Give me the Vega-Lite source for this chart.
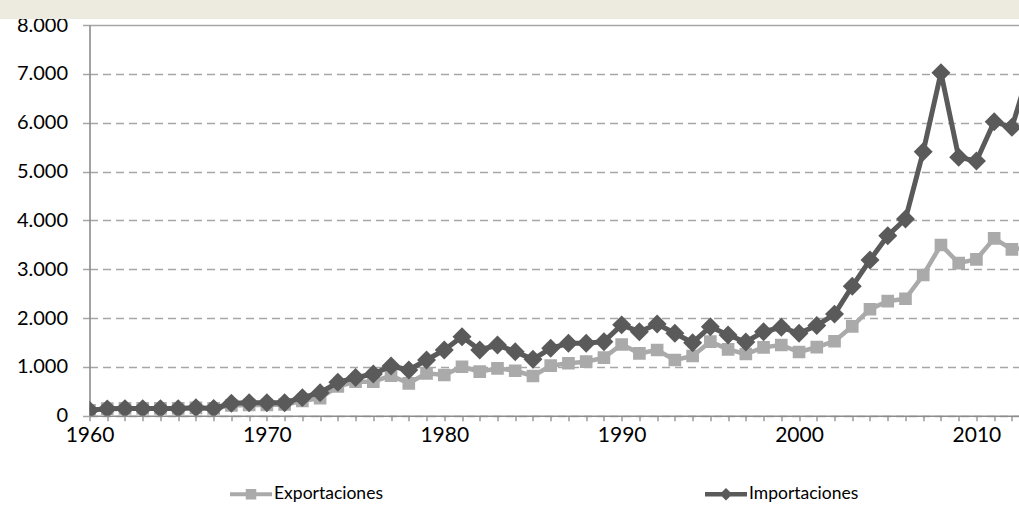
{
  "$schema": "https://vega.github.io/schema/vega-lite/v6.json",
  "width": 929.5,
  "height": 390.7,
  "autosize": {"type": "none"},
  "padding": {"left": 89.5, "top": 25, "right": 0, "bottom": 95.3},
  "background": "white",
  "config": {
    "view": {"stroke": null},
    "font": "Lato",
    "axisX": {
      "labelOverlap": false,
      "labelFlush": false,
      "labelFontSize": 21,
      "labelColor": "#000000",
      "labelPadding": 4,
      "tickSize": 5,
      "tickColor": "#8C8C8C",
      "tickWidth": 1.3,
      "domainColor": "#8C8C8C",
      "domainWidth": 1.6,
      "grid": false
    },
    "axisY": {
      "labelFontSize": 20,
      "labelColor": "#000000",
      "labelPadding": 15,
      "tickSize": 7,
      "tickColor": "#A6A6A6",
      "tickWidth": 1.5,
      "grid": true,
      "gridColor": "#A6A6A6",
      "gridWidth": 1.5,
      "domainColor": "#8C8C8C",
      "domainWidth": 1.6
    }
  },
  "resolve": {"scale": {"x": "shared", "y": "shared"}, "axis": {"x": "independent"}},
  "datasets": {
    "trade": [
      {"year": 1960, "series": "Exportaciones", "value": 110},
      {"year": 1961, "series": "Exportaciones", "value": 145},
      {"year": 1962, "series": "Exportaciones", "value": 150},
      {"year": 1963, "series": "Exportaciones", "value": 150},
      {"year": 1964, "series": "Exportaciones", "value": 150},
      {"year": 1965, "series": "Exportaciones", "value": 150},
      {"year": 1966, "series": "Exportaciones", "value": 160},
      {"year": 1967, "series": "Exportaciones", "value": 150},
      {"year": 1968, "series": "Exportaciones", "value": 210},
      {"year": 1969, "series": "Exportaciones", "value": 220},
      {"year": 1970, "series": "Exportaciones", "value": 220},
      {"year": 1971, "series": "Exportaciones", "value": 230},
      {"year": 1972, "series": "Exportaciones", "value": 300},
      {"year": 1973, "series": "Exportaciones", "value": 360},
      {"year": 1974, "series": "Exportaciones", "value": 600},
      {"year": 1975, "series": "Exportaciones", "value": 696},
      {"year": 1976, "series": "Exportaciones", "value": 696},
      {"year": 1977, "series": "Exportaciones", "value": 820},
      {"year": 1978, "series": "Exportaciones", "value": 663},
      {"year": 1979, "series": "Exportaciones", "value": 868},
      {"year": 1980, "series": "Exportaciones", "value": 833},
      {"year": 1981, "series": "Exportaciones", "value": 1003},
      {"year": 1982, "series": "Exportaciones", "value": 901},
      {"year": 1983, "series": "Exportaciones", "value": 970},
      {"year": 1984, "series": "Exportaciones", "value": 921},
      {"year": 1985, "series": "Exportaciones", "value": 813},
      {"year": 1986, "series": "Exportaciones", "value": 1024},
      {"year": 1987, "series": "Exportaciones", "value": 1073},
      {"year": 1988, "series": "Exportaciones", "value": 1106},
      {"year": 1989, "series": "Exportaciones", "value": 1190},
      {"year": 1990, "series": "Exportaciones", "value": 1458},
      {"year": 1991, "series": "Exportaciones", "value": 1277},
      {"year": 1992, "series": "Exportaciones", "value": 1345},
      {"year": 1993, "series": "Exportaciones", "value": 1140},
      {"year": 1994, "series": "Exportaciones", "value": 1222},
      {"year": 1995, "series": "Exportaciones", "value": 1516},
      {"year": 1996, "series": "Exportaciones", "value": 1359},
      {"year": 1997, "series": "Exportaciones", "value": 1263},
      {"year": 1998, "series": "Exportaciones", "value": 1400},
      {"year": 1999, "series": "Exportaciones", "value": 1448},
      {"year": 2000, "series": "Exportaciones", "value": 1304},
      {"year": 2001, "series": "Exportaciones", "value": 1405},
      {"year": 2002, "series": "Exportaciones", "value": 1525},
      {"year": 2003, "series": "Exportaciones", "value": 1830},
      {"year": 2004, "series": "Exportaciones", "value": 2180},
      {"year": 2005, "series": "Exportaciones", "value": 2345},
      {"year": 2006, "series": "Exportaciones", "value": 2395},
      {"year": 2007, "series": "Exportaciones", "value": 2881},
      {"year": 2008, "series": "Exportaciones", "value": 3495},
      {"year": 2009, "series": "Exportaciones", "value": 3125},
      {"year": 2010, "series": "Exportaciones", "value": 3202},
      {"year": 2011, "series": "Exportaciones", "value": 3632},
      {"year": 2012, "series": "Exportaciones", "value": 3407},
      {"year": 2013, "series": "Exportaciones", "value": 3450},
      {"year": 1960, "series": "Importaciones", "value": 110},
      {"year": 1961, "series": "Importaciones", "value": 140},
      {"year": 1962, "series": "Importaciones", "value": 145},
      {"year": 1963, "series": "Importaciones", "value": 145},
      {"year": 1964, "series": "Importaciones", "value": 145},
      {"year": 1965, "series": "Importaciones", "value": 145},
      {"year": 1966, "series": "Importaciones", "value": 165},
      {"year": 1967, "series": "Importaciones", "value": 150},
      {"year": 1968, "series": "Importaciones", "value": 255},
      {"year": 1969, "series": "Importaciones", "value": 265},
      {"year": 1970, "series": "Importaciones", "value": 265},
      {"year": 1971, "series": "Importaciones", "value": 265},
      {"year": 1972, "series": "Importaciones", "value": 370},
      {"year": 1973, "series": "Importaciones", "value": 470},
      {"year": 1974, "series": "Importaciones", "value": 685},
      {"year": 1975, "series": "Importaciones", "value": 780},
      {"year": 1976, "series": "Importaciones", "value": 854},
      {"year": 1977, "series": "Importaciones", "value": 1018},
      {"year": 1978, "series": "Importaciones", "value": 936},
      {"year": 1979, "series": "Importaciones", "value": 1140},
      {"year": 1980, "series": "Importaciones", "value": 1345},
      {"year": 1981, "series": "Importaciones", "value": 1618},
      {"year": 1982, "series": "Importaciones", "value": 1345},
      {"year": 1983, "series": "Importaciones", "value": 1448},
      {"year": 1984, "series": "Importaciones", "value": 1311},
      {"year": 1985, "series": "Importaciones", "value": 1154},
      {"year": 1986, "series": "Importaciones", "value": 1379},
      {"year": 1987, "series": "Importaciones", "value": 1482},
      {"year": 1988, "series": "Importaciones", "value": 1482},
      {"year": 1989, "series": "Importaciones", "value": 1516},
      {"year": 1990, "series": "Importaciones", "value": 1860},
      {"year": 1991, "series": "Importaciones", "value": 1720},
      {"year": 1992, "series": "Importaciones", "value": 1877},
      {"year": 1993, "series": "Importaciones", "value": 1687},
      {"year": 1994, "series": "Importaciones", "value": 1495},
      {"year": 1995, "series": "Importaciones", "value": 1823},
      {"year": 1996, "series": "Importaciones", "value": 1652},
      {"year": 1997, "series": "Importaciones", "value": 1510},
      {"year": 1998, "series": "Importaciones", "value": 1720},
      {"year": 1999, "series": "Importaciones", "value": 1810},
      {"year": 2000, "series": "Importaciones", "value": 1687},
      {"year": 2001, "series": "Importaciones", "value": 1845},
      {"year": 2002, "series": "Importaciones", "value": 2080},
      {"year": 2003, "series": "Importaciones", "value": 2650},
      {"year": 2004, "series": "Importaciones", "value": 3188},
      {"year": 2005, "series": "Importaciones", "value": 3686},
      {"year": 2006, "series": "Importaciones", "value": 4027},
      {"year": 2007, "series": "Importaciones", "value": 5405},
      {"year": 2008, "series": "Importaciones", "value": 7023},
      {"year": 2009, "series": "Importaciones", "value": 5290},
      {"year": 2010, "series": "Importaciones", "value": 5215},
      {"year": 2011, "series": "Importaciones", "value": 6020},
      {"year": 2012, "series": "Importaciones", "value": 5905},
      {"year": 2013, "series": "Importaciones", "value": 7100}
    ]
  },
  "layer": [
    {
      "data": {"name": "trade"},
      "transform": [{"filter": "datum.series === 'Exportaciones'"}],
      "mark": {"type": "line", "strokeWidth": 4.5, "clip": true, "point": {"shape": "square", "size": 160, "filled": true, "opacity": 1}},
      "encoding": {
        "x": {
          "field": "year", "type": "quantitative",
          "scale": {"domain": [1960, 2012.4], "nice": false, "zero": false},
          "axis": {
            "title": null,
            "orient": "bottom",
            "values": [1960, 1970, 1980, 1990, 2000, 2010],
            "format": "d",
            "ticks": false,
            "domain": false,
            "labelPadding": 9,
            "labelOverlap": false
          }
        },
        "y": {
          "field": "value", "type": "quantitative",
          "scale": {"domain": [0, 8000], "nice": false},
          "axis": {
            "title": null,
            "values": [0,1000,2000,3000,4000,5000,6000,7000,8000],
            "labelExpr": "replace(format(datum.value, ','), ',', '.')",
            "gridDash": {"condition": {"test": "datum.value == 8000", "value": []}, "value": [8, 5]}
          }
        },
        "color": {
          "field": "series", "type": "nominal",
          "scale": {"domain": ["Exportaciones", "Importaciones"], "range": ["#AAAAAA", "#5A5A5A"]},
          "legend": {
            "title": null,
            "orient": "none",
            "legendX": 140.5,
            "legendY": 448,
            "direction": "horizontal",
            "columns": 2,
            "columnPadding": 322,
            "symbolSize": 1764,
            "symbolStrokeWidth": 0,
            "labelFontSize": 17.5,
            "labelColor": "#000000",
            "labelOffset": 2,
            "encode": {
              "symbols": {
                "update": {
                  "shape": {"signal": "datum.value === 'Exportaciones' ? 'M-1,-0.1L1,-0.1L1,0.1L-1,0.1Z M-0.25,-0.25L0.25,-0.25L0.25,0.25L-0.25,0.25Z' : 'M-1,-0.11L1,-0.11L1,0.11L-1,0.11Z M0,-0.3L0.3,0L0,0.3L-0.3,0Z'"},
                  "fill": {"signal": "datum.value === 'Exportaciones' ? '#AAAAAA' : '#5A5A5A'"},
                  "fillOpacity": {"value": 1},
                  "opacity": {"value": 1},
                  "strokeWidth": {"value": 0}
                }
              }
            }
          }
        }
      }
    },
    {
      "data": {"name": "trade"},
      "transform": [{"filter": "datum.series === 'Importaciones'"}],
      "mark": {"type": "line", "strokeWidth": 5, "clip": true, "point": {"shape": "diamond", "size": 360, "filled": true, "opacity": 1}},
      "encoding": {
        "x": {
          "field": "year", "type": "quantitative",
          "axis": {
            "title": null,
            "orient": "bottom",
            "values": [1960,1961,1962,1963,1964,1965,1966,1967,1968,1969,1970,1971,1972,1973,1974,1975,1976,1977,1978,1979,1980,1981,1982,1983,1984,1985,1986,1987,1988,1989,1990,1991,1992,1993,1994,1995,1996,1997,1998,1999,2000,2001,2002,2003,2004,2005,2006,2007,2008,2009,2010,2011,2012],
            "labels": false
          }
        },
        "y": {"field": "value", "type": "quantitative"},
        "color": {"field": "series", "type": "nominal"}
      }
    },
    {
      "data": {"values": [{}]},
      "mark": {"type": "rect", "color": "#EDEBE0", "clip": false},
      "encoding": {
        "x": {"datum": 1954.9, "type": "quantitative", "axis": null},
        "x2": {"datum": 2013},
        "y": {"datum": 8123, "type": "quantitative"},
        "y2": {"datum": 8530}
      }
    }
  ]
}
